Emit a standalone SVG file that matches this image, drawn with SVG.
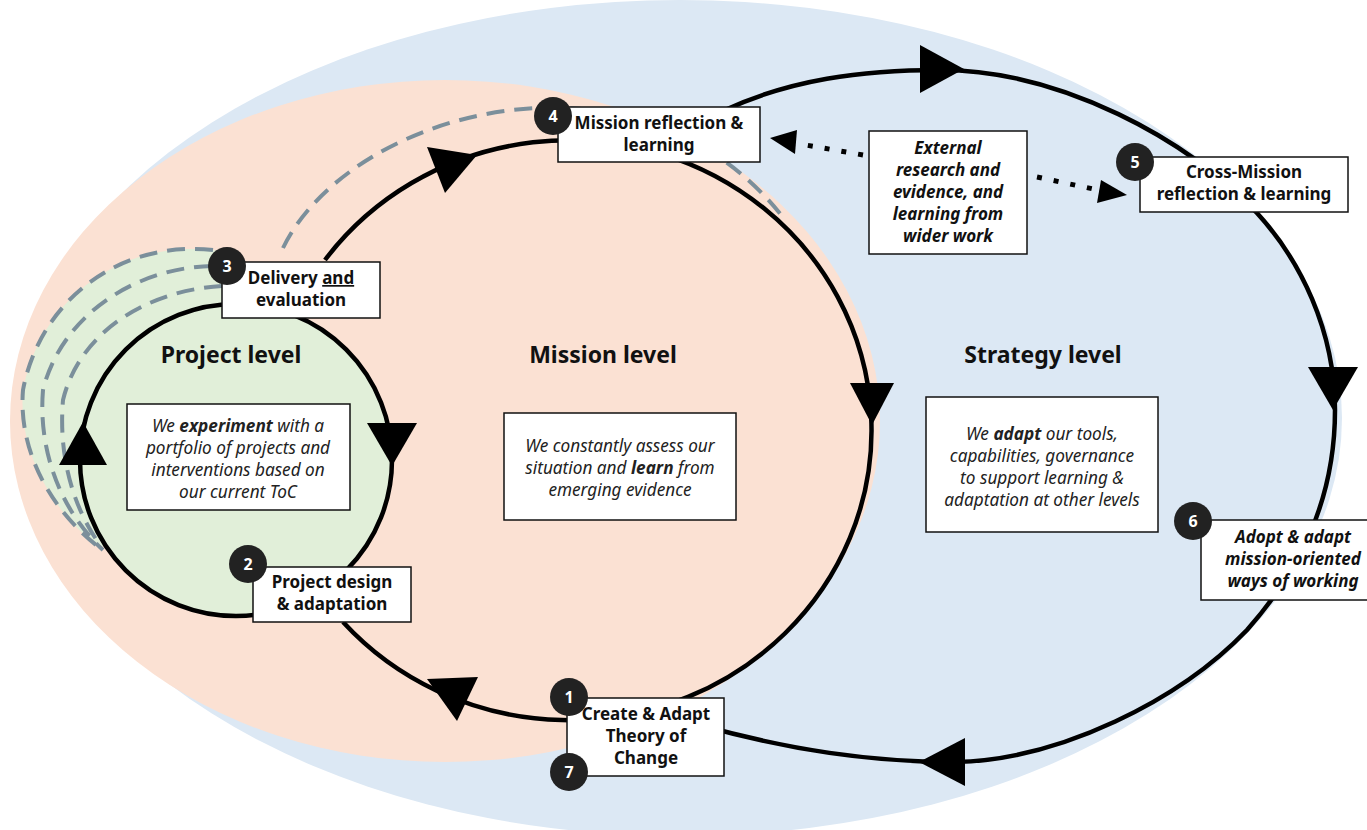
<svg xmlns="http://www.w3.org/2000/svg" width="1367" height="830" viewBox="0 0 1367 830">
<defs>
<style>
.box{fill:#fff;stroke:#111;stroke-width:1.5}
.lbl{font-family:"Noto Sans","Liberation Sans",sans-serif;font-weight:700;font-size:17px;fill:#111;text-anchor:middle}
.it{font-family:"Noto Sans","Liberation Sans",sans-serif;font-style:italic;font-size:17.2px;fill:#222;text-anchor:middle}
.bi{font-family:"Noto Sans","Liberation Sans",sans-serif;font-style:italic;font-weight:700;font-size:17px;fill:#111;text-anchor:middle}
.title{font-family:"Noto Sans","Liberation Sans",sans-serif;font-weight:700;font-size:23px;fill:#111;text-anchor:middle}
.badge circle{fill:#222}
.badge text{font-family:"Noto Sans","Liberation Sans",sans-serif;font-weight:700;font-size:16px;fill:#fff;text-anchor:middle}
.loop{fill:none;stroke:#000;stroke-width:4.5}
.dash{fill:none;stroke:#7b8f9b;stroke-width:4;stroke-dasharray:18 10}
.dot{fill:none;stroke:#000;stroke-width:5;stroke-dasharray:5 12}
.head{fill:#000}
</style>
</defs>
<g id="backgrounds">
<ellipse cx="680" cy="418" rx="662" ry="418" fill="#dce8f4"/>
<ellipse cx="445" cy="421" rx="435" ry="341" fill="#fbe1d3"/>
<path d="M213,250 C120,240 40,300 23,390 C18,450 50,510 100,548 L236,460 L240,255 Z" fill="#e1efd9"/>
</g>
<g id="connectors">
<path class="dash" d="M283,248 C350,110 640,30 785,220"/>
<path class="dash" d="M213,250 C120,240 40,300 23,390 C18,450 50,510 100,548"/>
<path class="dash" d="M212,266 C130,268 60,320 43,390 C38,450 60,510 103,550"/>
<path class="dash" d="M222,286 C150,290 80,330 63,400 C58,460 75,510 100,545"/>
<path class="loop" d="M325,260 A302,290 0 1 1 343,622"/>
<path class="loop" d="M725,110 C790,80 860,70 940,70 C1060,70 1190,140 1257,213 C1300,260 1335,330 1335,410 C1335,500 1300,570 1247,630 C1180,700 1060,760 955,762 C870,762 790,750 700,725"/>
<polygon class="head" points="477,155 445,193 427,147"/>
<polygon class="head" points="872,425 850,383 894,383"/>
<polygon class="head" points="427,679 478,677 457,721"/>
<polygon class="head" points="964,69 920,45 920,93"/>
<polygon class="head" points="1333,410 1308,367 1358,367"/>
<polygon class="head" points="919,762 965,738 965,786"/>
<path class="dot" d="M863,155 L800,144"/>
<polygon class="head" points="770,138 797,130 795,154"/>
<path class="dot" d="M1037,177 L1098,190"/>
<polygon class="head" points="1127,195 1101,180 1097,203"/>
</g>
<g id="project-level">
<circle cx="236" cy="460" r="156" fill="#e1efd9" stroke="#000" stroke-width="4.5"/>
<polygon class="head" points="392,466 367,423 417,423"/>
<polygon class="head" points="83,422 59,465 107,465"/>
<text class="title" x="231" y="363">Project level</text>
<rect class="box" x="127" y="404" width="223" height="106"/>
<text class="it" x="238" y="432">We <tspan font-weight="700">experiment</tspan> with a</text>
<text class="it" x="238" y="454">portfolio of projects and</text>
<text class="it" x="238" y="476">interventions based on</text>
<text class="it" x="238" y="498">our current ToC</text>
</g>
<g id="mission-level">
<text class="title" x="603" y="363">Mission level</text>
<rect class="box" x="504" y="413" width="232" height="107"/>
<text class="it" x="620" y="452">We constantly assess our</text>
<text class="it" x="620" y="474">situation and <tspan font-weight="700">learn</tspan> from</text>
<text class="it" x="620" y="496">emerging evidence</text>
</g>
<g id="strategy-level">
<text class="title" x="1043" y="363">Strategy level</text>
<rect class="box" x="926" y="397" width="232" height="135"/>
<text class="it" x="1042" y="440">We <tspan font-weight="700">adapt</tspan> our tools,</text>
<text class="it" x="1042" y="462">capabilities, governance</text>
<text class="it" x="1042" y="484">to support learning &amp;</text>
<text class="it" x="1042" y="506">adaptation at other levels</text>
</g>
<g id="node-3">
<rect class="box" x="222" y="262" width="158" height="56"/>
<text class="lbl" x="301" y="284">Delivery <tspan text-decoration="underline">and</tspan></text>
<text class="lbl" x="301" y="306">evaluation</text>
<g class="badge"><circle cx="227" cy="266" r="19"/><text x="227" y="272">3</text></g>
</g>
<g id="node-4">
<rect class="box" x="558" y="107" width="202" height="55"/>
<text class="lbl" x="659" y="129">Mission reflection &amp;</text>
<text class="lbl" x="659" y="151">learning</text>
<g class="badge"><circle cx="553" cy="116" r="19"/><text x="553" y="122">4</text></g>
</g>
<g id="external">
<rect class="box" x="869" y="131" width="158" height="123"/>
<text class="bi" x="948" y="154">External</text>
<text class="bi" x="948" y="176">research and</text>
<text class="bi" x="948" y="198">evidence, and</text>
<text class="bi" x="948" y="220">learning from</text>
<text class="bi" x="948" y="242">wider work</text>
</g>
<g id="node-5">
<rect class="box" x="1140" y="157" width="208" height="55"/>
<text class="lbl" x="1244" y="178">Cross-Mission</text>
<text class="lbl" x="1244" y="200">reflection &amp; learning</text>
<g class="badge"><circle cx="1135" cy="162" r="19"/><text x="1135" y="168">5</text></g>
</g>
<g id="node-6">
<rect class="box" x="1201" y="520" width="170" height="80"/>
<text class="bi" x="1293" y="543">Adopt &amp; adapt</text>
<text class="bi" x="1293" y="565">mission-oriented</text>
<text class="bi" x="1293" y="587">ways of working</text>
<g class="badge"><circle cx="1193" cy="521" r="19"/><text x="1193" y="527">6</text></g>
</g>
<g id="node-2">
<rect class="box" x="253" y="567" width="158" height="55"/>
<text class="lbl" x="332" y="588">Project design</text>
<text class="lbl" x="332" y="610">&amp; adaptation</text>
<g class="badge"><circle cx="248" cy="564" r="19"/><text x="248" y="570">2</text></g>
</g>
<g id="node-1-7">
<rect class="box" x="567" y="698" width="157" height="78"/>
<text class="lbl" x="646" y="720">Create &amp; Adapt</text>
<text class="lbl" x="646" y="742">Theory of</text>
<text class="lbl" x="646" y="764">Change</text>
<g class="badge"><circle cx="569" cy="697" r="19"/><text x="569" y="703">1</text></g>
<g class="badge"><circle cx="569" cy="772" r="19"/><text x="569" y="778">7</text></g>
</g>
</svg>
